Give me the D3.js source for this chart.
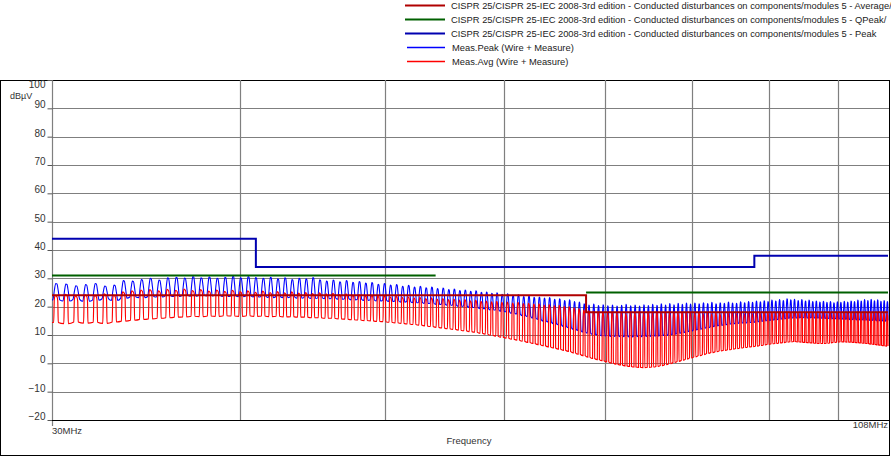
<!DOCTYPE html>
<html><head><meta charset="utf-8">
<script src="https://cdn.jsdelivr.net/npm/d3@7"></script>
<style>
body{margin:0;background:#fff}
svg{display:block;font-family:"Liberation Sans",Arial,sans-serif}
</style>
</head><body>
<svg id="chart" width="891" height="457"></svg>
<script>
// ---------- data ----------
const yTicks = [100,90,80,70,60,50,40,30,20,10,0,-10,-20];
const gridFreqs = [40,50,60,70,80,90,100];
const xTickLabels = ["30MHz","108MHz"];
const yUnit = "dBµV";
const xTitle = "Frequency";
const legendLabels = [
  "CISPR 25/CISPR 25-IEC 2008-3rd edition - Conducted disturbances on components/modules 5 - Average/",
  "CISPR 25/CISPR 25-IEC 2008-3rd edition - Conducted disturbances on components/modules 5 - QPeak/",
  "CISPR 25/CISPR 25-IEC 2008-3rd edition - Conducted disturbances on components/modules 5 - Peak",
  "Meas.Peak (Wire + Measure)",
  "Meas.Avg (Wire + Measure)"
];
// limit lines (MHz / dBµV)
const avgLimitFreq  = [30,68,68,108];
const avgLimitLevel = [24,24,18,18];
const qpLimit1Freq  = [30,54];
const qpLimit1Level = [31,31];
const qpLimit2Freq  = [68,108];
const qpLimit2Level = [25,25];
const pkLimitFreq   = [30,41,41,88,88,108];
const pkLimitLevel  = [44,44,34,34,38,38];

// measured comb lines (MHz)
const combFreq = [
30.20,30.67,31.14,31.61,32.08,32.55,33.02,33.49,33.96,34.43,
34.90,35.37,35.84,36.31,36.78,37.25,37.72,38.19,38.66,39.13,
39.60,40.07,40.54,41.01,41.48,41.95,42.42,42.89,43.36,43.83,
44.30,44.77,45.24,45.71,46.18,46.65,47.12,47.59,48.06,48.53,
49.00,49.47,49.94,50.41,50.88,51.35,51.82,52.29,52.76,53.23,
53.70,54.17,54.64,55.11,55.58,56.05,56.52,56.99,57.46,57.93,
58.40,58.87,59.34,59.81,
60.31,60.81,61.31,61.81,62.31,62.81,63.31,63.81,64.31,64.81,
65.31,65.81,66.31,66.81,67.31,67.81,68.31,68.81,69.31,69.81,
70.31,70.81,71.31,71.81,72.31,72.81,73.31,73.81,74.31,74.81,
75.31,75.81,76.31,76.81,77.31,77.81,78.31,78.81,79.31,79.81,
80.34,80.87,81.40,81.93,82.46,82.99,83.52,84.05,84.58,85.11,
85.64,86.17,86.70,87.23,87.76,88.29,88.82,89.35,89.88,90.41,
90.94,91.47,92.00,92.53,93.06,93.59,94.12,94.65,95.18,95.71,
96.24,96.77,97.30,97.83,98.36,98.89,99.42,99.95,100.48,101.01,
101.54,102.07,102.60,103.13,103.66,104.19,104.72,105.25,105.78,106.31,
106.84,107.37,107.90];
// Meas.Peak: comb-line top and floor between lines (dBµV)
const peakTop = [
28.2,28.0,27.4,27.8,28.2,27.3,27.6,29.2,29.0,29.6,
30.0,29.4,30.2,30.4,30.1,30.6,30.2,30.5,30.0,30.4,
30.7,30.2,30.6,30.3,30.0,30.4,29.8,30.2,29.6,30.0,
29.8,30.3,29.5,29.0,29.4,28.8,29.2,28.6,28.9,28.3,
28.5,27.9,28.2,27.6,27.8,27.2,27.5,26.9,27.2,26.7,
26.9,26.4,26.6,26.0,26.2,25.7,25.9,25.4,25.6,25.1,
25.2,24.7,24.9,24.4,
24.5,24.0,24.2,23.6,23.8,23.3,23.4,23.0,23.2,22.6,
22.8,22.2,22.4,21.8,21.6,21.0,20.6,20.9,20.4,20.7,
20.3,20.6,20.2,20.5,20.8,20.3,20.6,20.2,20.7,20.4,
20.8,20.5,21.0,20.6,21.1,20.7,21.2,20.8,21.3,20.9,
21.3,21.0,21.4,21.1,21.5,21.0,21.4,21.2,21.6,21.3,
21.2,21.7,21.4,21.8,21.5,22.0,21.7,22.1,21.8,22.3,
22.0,22.5,22.2,22.8,22.4,22.6,22.2,22.5,22.0,22.3,
21.8,22.0,21.6,21.9,21.5,21.8,21.4,21.7,21.5,21.9,
21.6,22.0,21.8,22.3,22.0,22.5,22.2,22.6,22.1,22.4,
21.9,22.2,21.8];
const peakFloor = [
22.4,22.0,22.6,21.9,22.3,22.8,22.2,23.0,23.4,23.2,
23.6,23.4,23.8,23.6,24.0,23.7,24.0,23.8,24.0,23.6,
23.8,23.5,23.8,23.4,23.6,23.2,23.5,23.2,23.4,23.0,
23.2,22.9,23.1,22.8,23.0,22.6,22.8,22.4,22.6,22.2,
22.4,22.0,22.2,21.8,22.0,21.6,21.8,21.4,21.5,21.1,
21.2,20.8,20.9,20.5,20.6,20.1,20.2,19.7,19.8,19.3,
19.3,18.8,18.8,18.3,
18.2,17.6,17.4,16.8,16.5,15.9,15.5,14.9,14.6,14.0,
13.6,13.0,12.6,12.0,11.6,11.0,10.6,10.2,10.0,9.7,
9.8,9.5,9.7,9.4,9.6,9.3,9.6,9.4,9.7,9.5,
9.8,9.6,10.0,9.8,10.3,10.2,10.6,10.8,11.2,11.4,
11.8,12.0,12.4,12.6,12.9,13.2,13.4,13.6,13.8,14.0,
14.1,14.3,14.2,14.5,14.4,14.7,14.8,15.0,15.1,15.3,
15.4,15.6,15.7,15.9,16.0,16.1,16.0,16.2,16.1,16.0,
16.2,15.9,16.1,15.8,16.0,15.7,15.9,15.6,15.8,15.5,
15.7,15.4,15.6,15.3,15.5,15.2,15.4,15.1,15.3,15.0,
15.2,14.9,15.1];
// Meas.Avg: comb-line top and floor (dBµV)
const avgTop = [
24.0,24.4,23.8,24.2,24.0,24.5,24.1,25.2,25.6,25.9,
26.0,25.6,26.1,25.8,26.2,25.7,26.0,25.5,25.9,25.4,
25.8,25.3,25.6,25.1,25.5,25.0,25.3,24.9,25.2,24.8,
25.0,24.6,24.9,24.5,24.7,24.3,24.5,24.1,24.3,23.9,
24.0,23.7,23.9,23.5,23.7,23.3,23.5,23.1,23.3,22.9,
23.1,22.7,22.9,22.5,22.7,22.3,22.5,22.1,22.3,21.9,
22.0,21.7,21.9,21.5,
21.6,21.3,21.5,21.1,21.2,20.9,21.0,20.6,20.7,20.4,
20.5,20.1,20.0,19.6,19.3,18.9,18.6,18.4,18.2,18.0,
17.8,18.1,17.7,18.0,17.6,18.1,17.8,18.2,17.7,18.0,
17.9,18.2,17.8,18.1,17.7,18.0,17.8,18.2,17.9,18.1,
17.8,18.0,17.6,17.9,17.5,17.8,17.6,17.9,17.7,18.0,
17.6,17.9,17.5,17.8,17.6,17.9,17.7,18.0,17.8,18.1,
17.9,18.2,18.0,18.3,18.1,18.2,17.9,18.1,17.8,18.0,
17.7,17.9,17.6,17.8,17.5,17.8,17.6,17.9,17.7,18.0,
17.8,18.1,17.9,18.2,18.0,18.2,17.9,18.1,17.8,18.0,
17.7,17.9,17.6];
const avgFloor = [
14.4,14.0,14.6,14.2,14.5,14.1,14.6,14.9,15.2,15.5,
15.7,15.9,16.1,16.3,16.4,16.6,16.5,16.7,16.6,16.8,
16.7,16.6,16.8,16.6,16.7,16.5,16.6,16.4,16.5,16.3,
16.3,16.1,16.1,15.9,15.9,15.7,15.6,15.4,15.3,15.1,
15.0,14.8,14.7,14.5,14.3,14.1,13.9,13.7,13.5,13.2,
13.0,12.7,12.5,12.2,12.0,11.7,11.5,11.2,11.0,10.6,
10.3,9.9,9.6,9.2,
8.9,8.5,8.2,7.8,7.4,7.0,6.6,6.2,5.8,5.4,
5.0,4.6,4.2,3.7,3.2,2.7,2.2,1.7,1.3,0.9,
0.5,0.1,-0.3,-0.6,-0.9,-1.1,-1.3,-1.4,-1.5,-1.4,
-1.3,-1.1,-0.8,-0.5,-0.1,0.3,0.7,1.1,1.5,1.9,
2.3,2.7,3.1,3.5,3.8,4.1,4.4,4.6,4.8,5.0,
5.2,5.4,5.6,5.8,5.9,6.1,6.3,6.5,6.7,6.9,
7.0,7.2,7.3,7.5,7.6,7.7,7.6,7.5,7.4,7.3,
7.2,7.1,7.0,7.0,7.1,7.2,7.4,7.5,7.6,7.6,
7.5,7.5,7.4,7.3,7.2,7.1,7.0,6.8,6.7,6.5,
6.4,6.2,6.1];

// ---------- layout ----------
const plot = {left: 52, right: 888, top: 80, bottom: 420};
const svg = d3.select("#chart");

const x = d3.scaleLog().domain([30,108]).range([plot.left, plot.right]);
const y = d3.scaleLinear().domain([-20,100]).range([plot.bottom, plot.top]);

// outer frame
svg.append("rect").attr("x",0.5).attr("y",80.5).attr("width",889).attr("height",375)
  .attr("fill","none").attr("stroke","#000").attr("stroke-width",1);

// grid
const gGrid = svg.append("g");
gGrid.selectAll("line.h").data(yTicks.filter(v => v > -20 && v < 100)).join("line")
  .attr("x1",plot.left).attr("x2",plot.right+1)
  .attr("y1",d => Math.round(y(d))+0.5).attr("y2",d => Math.round(y(d))+0.5)
  .attr("stroke","#7f7f7f").attr("stroke-width",1.2);
gGrid.selectAll("line.v").data(gridFreqs).join("line")
  .attr("x1",d => Math.round(x(d))+0.5).attr("x2",d => Math.round(x(d))+0.5)
  .attr("y1",plot.top).attr("y2",plot.bottom)
  .attr("stroke","#7f7f7f").attr("stroke-width",1.2);

// left axis
const yAxis = d3.axisLeft(y).tickValues(yTicks).tickSize(5).tickPadding(2).tickFormat(d3.format("d"));
const gy = svg.append("g").attr("transform",`translate(${plot.left+0.5},0)`).call(yAxis);
gy.select(".domain").attr("stroke","#7f7f7f").attr("stroke-width",1.2)
  .attr("d",`M0,${plot.top}V${plot.bottom+6}`);
gy.selectAll(".tick line").attr("stroke","#555");
gy.selectAll(".tick text").attr("font-size",10).attr("fill","#333")
  .attr("font-family","Liberation Sans, Arial, sans-serif")
  .attr("dy", d => d === 100 ? "0.75em" : "-0.05em");

// bottom line
svg.append("line").attr("x1",plot.left).attr("x2",plot.right+1)
  .attr("y1",plot.bottom+0.5).attr("y2",plot.bottom+0.5).attr("stroke","#000").attr("stroke-width",1.2);

// axis texts
svg.append("text").attr("x",10).attr("y",99).attr("font-size",9).attr("fill","#333").text(yUnit);
svg.append("text").attr("x",x(30)).attr("y",434).attr("font-size",9.5).attr("fill","#333").text(xTickLabels[0]);
svg.append("text").attr("x",x(108)).attr("y",428).attr("text-anchor","end").attr("font-size",9.5).attr("fill","#333").text(xTickLabels[1]);
svg.append("text").attr("x",469).attr("y",444).attr("text-anchor","middle").attr("font-size",9.5).attr("fill","#333").text(xTitle);

// ---------- measured traces ----------
function tracePoints(tops, floors, shape){
  const pts = [[30, floors[0]]];
  combFreq.forEach((f,i) => {
    const prev = i > 0 ? combFreq[i-1] : 2*f - combFreq[i+1];
    const next = i < combFreq.length-1 ? combFreq[i+1] : 2*f - combFreq[i-1];
    const s = (next - prev)/2;
    shape.forEach(([o,k]) => {
      const ff = Math.min(108, Math.max(30, f + o*s));
      pts.push([ff, floors[i] + k*(tops[i]-floors[i])]);
    });
  });
  pts.push([108, floors[floors.length-1]]);
  return pts;
}
const peakShape = [[-0.34,0],[-0.19,0.6],[-0.06,1],[0.06,0.97],[0.19,0.55],[0.34,0]];
const avgShape  = [[-0.26,0],[-0.20,0.85],[-0.12,1],[0.06,0.95],[0.14,0.8],[0.19,0]];

const line = d3.line().x(d => x(d[0])).y(d => y(d[1])).curve(d3.curveMonotoneX);
svg.append("clipPath").attr("id","pc").append("rect")
  .attr("x",plot.left).attr("y",plot.top).attr("width",plot.right-plot.left+1).attr("height",plot.bottom-plot.top);
const gData = svg.append("g").attr("clip-path","url(#pc)");

gData.append("path").attr("d",line(tracePoints(peakTop,peakFloor,peakShape)))
  .attr("fill","none").attr("stroke","#0000ff").attr("stroke-width",1.1);
gData.append("path").attr("d",line(tracePoints(avgTop,avgFloor,avgShape)))
  .attr("fill","none").attr("stroke","#ff0000").attr("stroke-width",1.15);

// ---------- limit lines ----------
const lim = d3.line().x(d => x(d[0])).y(d => y(d[1]));
const limits = [
  {f: avgLimitFreq, v: avgLimitLevel, c: "#b00000"},
  {f: qpLimit1Freq, v: qpLimit1Level, c: "#006000"},
  {f: qpLimit2Freq, v: qpLimit2Level, c: "#006000"},
  {f: pkLimitFreq,  v: pkLimitLevel,  c: "#0000b0"}
];
limits.forEach(L => {
  gData.append("path").attr("d", lim(L.f.map((f,i) => [f, L.v[i]])))
    .attr("fill","none").attr("stroke",L.c).attr("stroke-width",2);
});

// ---------- legend ----------
const legendColors = ["#b00000","#006000","#0000b0","#0000ff","#ff0000"];
const legendWidths = [2,2,2,1.3,1.3];
const gL = svg.append("g");
legendLabels.forEach((t,i) => {
  const yy = 5.5 + i*14;
  gL.append("line").attr("x1", i<3 ? 405 : 407).attr("x2",445).attr("y1",yy).attr("y2",yy)
    .style("stroke",legendColors[i]).attr("stroke-width",legendWidths[i]);
  gL.append("text").attr("x", i<3 ? 451 : 452).attr("y",yy+3.3).attr("font-size",9.35).attr("fill","#222").text(t);
});
</script>
</body></html>
